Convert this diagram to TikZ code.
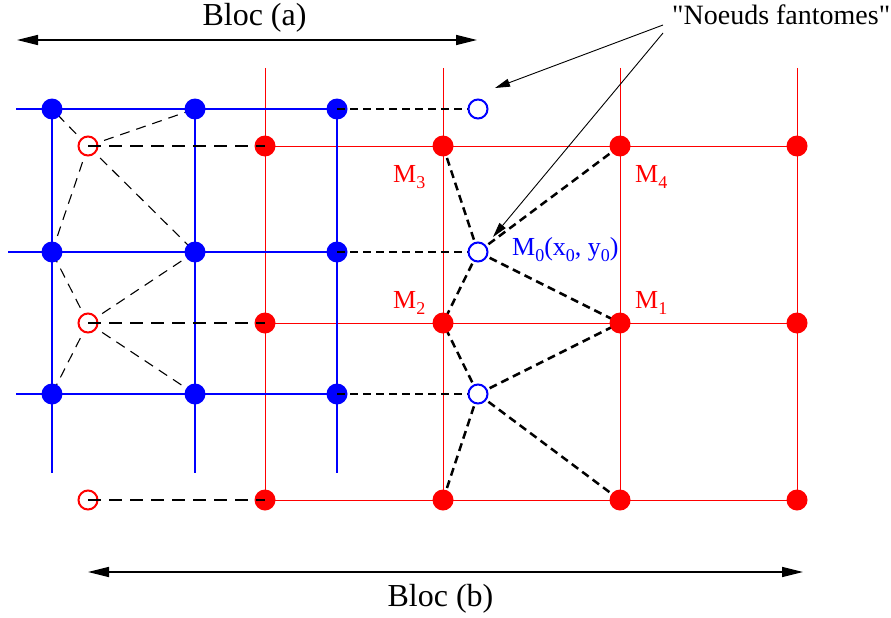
\documentclass[tikz,border=0pt]{standalone}
\usepackage{fontspec}
\setmainfont{Liberation Serif}[Ligatures=TeXOff]
\usetikzlibrary{arrows.meta}
\pgfdeclarelayer{bg}
\pgfdeclarelayer{fg}
\pgfdeclarelayer{top}
\pgfsetlayers{bg,main,fg,top}
\newcommand\lsub[1]{\raisebox{-6pt}{\fontsize{18}{18}\selectfont #1}}
\begin{document}
\begin{tikzpicture}[x=1pt,y=-1pt,
 bdot/.style={circle,fill=blue,inner sep=0,minimum size=21pt},
 rdot/.style={circle,fill=red,inner sep=0,minimum size=21pt},
 rghost/.style={circle,draw=red,fill=white,line width=2pt,inner sep=0,minimum size=19pt},
 bghost/.style={circle,draw=blue,fill=white,line width=2pt,inner sep=0,minimum size=19pt},
 bline/.style={blue,line width=2.8pt},
 rline/.style={red,line width=0.9pt},
 thindash/.style={black,line width=1.1pt,dash pattern=on 10pt off 7pt},
 hthindash/.style={black,line width=1.1pt,dash pattern=on 13pt off 8pt},
 thickdash/.style={black,line width=2.5pt,dash pattern=on 8pt off 5pt},
 mlab/.style={red,font=\fontsize{26}{26}\selectfont,anchor=base west,inner sep=0},
 blocarrow/.style={{Triangle[length=21pt,width=10pt]}-{Triangle[length=21pt,width=10pt]},line width=1.5pt},
 notearrow/.style={-{Triangle[length=15pt,width=8pt]},line width=0.9pt},
]
\useasboundingbox (0,0) rectangle (891,618);

% blue dots (block a)
\node[bdot] (b11) at (52,109) {};
\node[bdot] (b12) at (195,109) {};
\node[bdot] (b13) at (337,109) {};
\node[bdot] (b21) at (52,252) {};
\node[bdot] (b22) at (195,252) {};
\node[bdot] (b23) at (337,252) {};
\node[bdot] (b31) at (52,394) {};
\node[bdot] (b32) at (195,394) {};
\node[bdot] (b33) at (337,394) {};

% red dots (block b)
\node[rdot] (r11) at (265,146) {};
\node[rdot] (r12) at (443,146) {};
\node[rdot] (r13) at (620,146) {};
\node[rdot] (r14) at (797,146) {};
\node[rdot] (r21) at (265,323) {};
\node[rdot] (r22) at (443,323) {};
\node[rdot] (r23) at (620,323) {};
\node[rdot] (r24) at (797,323) {};
\node[rdot] (r31) at (265,500) {};
\node[rdot] (r32) at (443,500) {};
\node[rdot] (r33) at (620,500) {};
\node[rdot] (r34) at (797,500) {};

% ghost nodes
\begin{pgfonlayer}{fg}
\node[rghost] (gr1) at (88,146) {};
\node[rghost] (gr2) at (88,323) {};
\node[rghost] (gr3) at (88,500) {};
\end{pgfonlayer}
\begin{pgfonlayer}{top}
\node[bghost] (gb1) at (478,109) {};
\node[bghost] (gb2) at (478,252) {};
\node[bghost] (gb3) at (478,394) {};
\end{pgfonlayer}

% free ends of grid lines
\coordinate (bl1) at (16,109);
\coordinate (bl2) at (8,252);
\coordinate (bl3) at (16,394);
\coordinate (bb1) at (52,473);
\coordinate (bb2) at (195,473);
\coordinate (bb3) at (337,473);
\coordinate (rt1) at (265,68);
\coordinate (rt2) at (443,68);
\coordinate (rt3) at (620,68);
\coordinate (rt4) at (797,68);

\begin{pgfonlayer}{bg}
% red grid
\foreach \i in {1,2,3} \draw[rline] (r\i1.center) -- (r\i4.center);
\foreach \j in {1,2,3,4} \draw[rline] (rt\j) -- (r3\j.center);
% blue grid
\foreach \i in {1,2,3} \draw[bline] (bl\i) -- (b\i3.center);
\foreach \j in {1,2,3} \draw[bline] (b1\j.center) -- (bb\j);
% diagonal dashed links, block a
\foreach \n in {b11,b12,b21,b22} \draw[thindash] (gr1.center) -- (\n.center);
\foreach \n in {b21,b22,b31,b32} \draw[thindash] (gr2.center) -- (\n.center);
% diagonal dashed links, block b
\foreach \n in {r12,r13,r22,r23} \draw[thickdash] (gb2.center) -- (\n.center);
\foreach \n in {r22,r23,r32,r33} \draw[thickdash] (gb3.center) -- (\n.center);
\end{pgfonlayer}

\begin{pgfonlayer}{fg}
\foreach \i in {1,2,3} \draw[hthindash] (gr\i.center) -- (r\i1.center);
\foreach \i in {1,2,3} \draw[thickdash] (b\i3.center) -- (gb\i.center);
\end{pgfonlayer}

% labels
\node[mlab] (m3) at (393,182) {M\lsub{3}};
\node[mlab] (m4) at (635,182) {M\lsub{4}};
\node[mlab] (m2) at (393,308) {M\lsub{2}};
\node[mlab] (m1) at (635,308) {M\lsub{1}};
\node[mlab,blue] (m0) at (512,255) {M\lsub{0}(x\lsub{0}, y\lsub{0})};

% block arrows
\coordinate (aL) at (17,40);
\coordinate (aR) at (477,40);
\draw[blocarrow] (aL) -- (aR);
\node[anchor=base,inner sep=0,font=\fontsize{32}{32}\selectfont] (bloca) at (254.5,26) {Bloc (a)};
\coordinate (bL) at (88,572);
\coordinate (bR) at (803,572);
\draw[blocarrow] (bL) -- (bR);
\node[anchor=base,inner sep=0,font=\fontsize{32}{32}\selectfont] (blocb) at (440.5,606) {Bloc (b)};

% ghost annotation
\node[anchor=base west,inner sep=0,font=\fontsize{28}{28}\selectfont] (nf) at (672,25) {"Noeuds fantomes"};
\coordinate (n1) at (663,25);
\coordinate (n2) at (663,33);
\coordinate (t1) at (495,88);
\coordinate (t2) at (493,237);
\draw[notearrow] (n1) -- (t1);
\draw[notearrow] (n2) -- (t2);
\end{tikzpicture}
\end{document}
